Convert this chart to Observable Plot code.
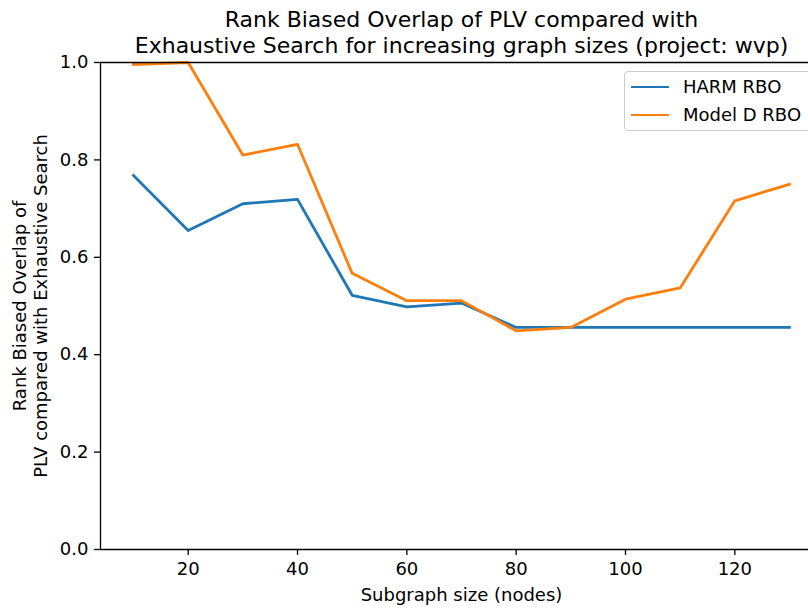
<!DOCTYPE html>
<html>
<head>
<meta charset="utf-8">
<script src="https://cdn.jsdelivr.net/npm/d3@7"></script>
<script src="https://cdn.jsdelivr.net/npm/@observablehq/plot@0.6"></script>
<style>
  html, body { margin: 0; padding: 0; background: #fff; }
  #wrap { position: relative; width: 808px; height: 608px; overflow: hidden; font-family: "DejaVu Sans", sans-serif; }
  #legend { position: absolute; left: 624px; top: 71px; width: 200px; height: 60px; box-sizing: border-box;
            border: 1px solid #cccccc; border-radius: 4px; background: rgba(255,255,255,0.8); }
  .lg-row { position: absolute; left: 6px; height: 22px; display: flex; align-items: center; }
  .lg-line { width: 38px; height: 0; border-top: 2.7px solid; margin-right: 14px; }
  .lg-text { font-size: 18px; color: #000; white-space: nowrap; line-height: 22px; }
</style>
</head>
<body>
<div id="wrap"></div>
<script>
const sizes = [10, 20, 30, 40, 50, 60, 70, 80, 90, 100, 110, 120, 130];
const harmRBO = [0.768, 0.655, 0.710, 0.719, 0.522, 0.498, 0.506, 0.456, 0.456, 0.456, 0.456, 0.456, 0.456];
const modelDRBO = [0.996, 1.0, 0.810, 0.832, 0.567, 0.511, 0.511, 0.449, 0.456, 0.514, 0.537, 0.716, 0.750];
const seriesNames = ["HARM RBO", "Model D RBO"];
const seriesColors = ["#1f77b4", "#ff7f0e"];
const xTicks = [20, 40, 60, 80, 100, 120];
const yTicks = [0.0, 0.2, 0.4, 0.6, 0.8, 1.0];
const titleText = "Rank Biased Overlap of PLV compared with\nExhaustive Search for increasing graph sizes (project: wvp)";
const yLabel = "Rank Biased Overlap of\nPLV compared with Exhaustive Search";
const xLabel = "Subgraph size (nodes)";

const data = [];
sizes.forEach((s, i) => {
  data.push({size: s, value: harmRBO[i], series: seriesNames[0]});
  data.push({size: s, value: modelDRBO[i], series: seriesNames[1]});
});

const xMin = 3.96, xMax = 133.48;

const chart = Plot.plot({
  width: 808,
  height: 608,
  marginLeft: 100,
  marginRight: 0,
  marginTop: 62,
  marginBottom: 59,
  style: {fontFamily: "DejaVu Sans, sans-serif", fontSize: "18px", color: "#000", background: "#fff"},
  x: {domain: [xMin, xMax], label: null},
  y: {domain: [0, 1], label: null},
  color: {domain: seriesNames, range: seriesColors},
  marks: [
    Plot.axisX({ticks: xTicks, tickSize: 6, tickPadding: 7, tickFormat: d => String(d), fontSize: 18, strokeWidth: 1.3, label: null}),
    Plot.axisY({ticks: yTicks, tickSize: 6, tickPadding: 6, tickFormat: d => d.toFixed(1), fontSize: 18, strokeWidth: 1.3, label: null}),
    Plot.line(data, {x: "size", y: "value", stroke: "series", z: "series", strokeWidth: 2.8, strokeLinejoin: "round", strokeLinecap: "square"}),
    Plot.ruleY([0, 1], {stroke: "#000", strokeWidth: 1.3}),
    Plot.ruleX([xMin], {stroke: "#000", strokeWidth: 1.3}),
    Plot.text([titleText], {frameAnchor: "top", lineAnchor: "bottom", dy: -10, dx: 7, fontSize: 22, lineHeight: 1.15, fill: "#000"}),
    Plot.text([yLabel], {frameAnchor: "left", textAnchor: "middle", rotate: -90, dx: -54, lineAnchor: "bottom", fontSize: 18, lineHeight: 1.15, fill: "#000"}),
    Plot.text([xLabel], {frameAnchor: "bottom", lineAnchor: "top", dy: 39, dx: 7, fontSize: 18, fill: "#000"})
  ]
});

const wrap = document.getElementById("wrap");
wrap.appendChild(chart);

const legend = document.createElement("div");
legend.id = "legend";
seriesNames.forEach((name, i) => {
  const row = document.createElement("div");
  row.className = "lg-row";
  row.style.top = (4 + i * 28) + "px";
  const ln = document.createElement("div");
  ln.className = "lg-line";
  ln.style.borderTopColor = seriesColors[i];
  const tx = document.createElement("span");
  tx.className = "lg-text";
  tx.textContent = name;
  row.appendChild(ln);
  row.appendChild(tx);
  legend.appendChild(row);
});
wrap.appendChild(legend);
</script>
</body>
</html>
